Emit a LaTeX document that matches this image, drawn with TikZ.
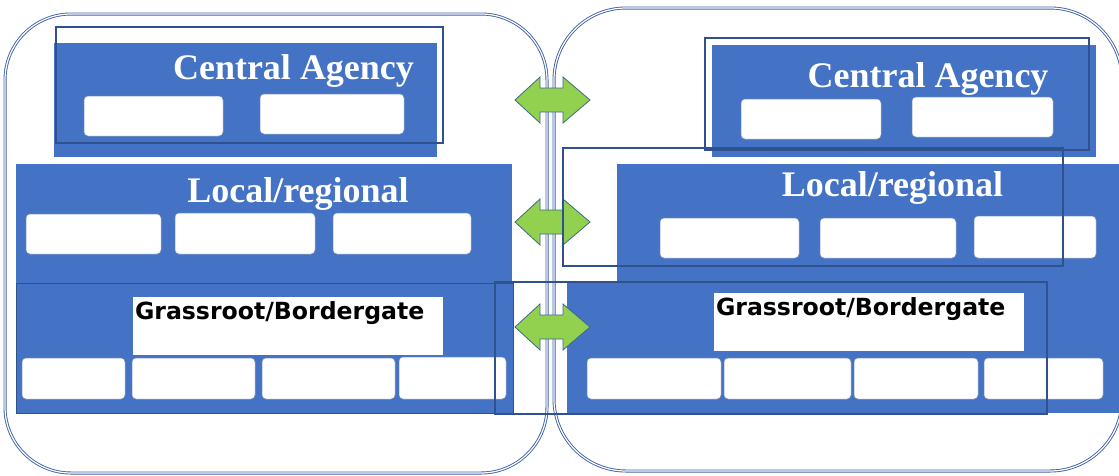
\documentclass[tikz,border=0pt]{standalone}
\usepackage{fontspec}
\newfontfamily\titlefont{Liberation Serif}
\newfontfamily\tierfont{DejaVu Sans}
\definecolor{panelblue}{HTML}{4472C4}
\definecolor{edgeblue}{HTML}{2F528F}
\definecolor{ringblue}{HTML}{3F64A8}
\definecolor{linkgreen}{HTML}{92D050}
\definecolor{linkedge}{HTML}{3C6A86}

% rectangle node from its top-left and bottom-right corners (pixel grid, y down)
\newcommand\blk[6]{%
  \node[#2, anchor=north west, minimum width={#5-#3}, minimum height={#6-#4}] (#1) at (#3,#4) {};}

\begin{document}
\begin{tikzpicture}[x=1pt,y=-1pt,
  every node/.style={inner sep=0pt, outer sep=0pt},
  ring/.style={draw=ringblue, double=white, line width=0.9pt, double distance=1.2pt},
  panel/.style={fill=panelblue},
  framed/.style={draw=edgeblue, line width=1.3pt},
  slot/.style={fill=white, draw=edgeblue!60, line width=0.5pt, rounded corners=4pt},
  tag/.style={fill=white},
  title/.style={text=white, anchor=base, font=\titlefont\bfseries\fontsize{36}{36}\selectfont},
  tier/.style={text=black, anchor=base west, font=\tierfont\bfseries\fontsize{23.6}{24}\selectfont},
  link/.style={fill=linkgreen, draw=linkedge, line width=0.8pt, line join=miter},
  biarrow/.pic={
    \path[link] (-37.5,0) -- (-12.5,-23) -- (-12.5,-12) -- (10.5,-12) -- (10.5,-23)
      -- (37.5,0) -- (10.5,23) -- (10.5,12) -- (-12.5,12) -- (-12.5,23) -- cycle;
    \coordinate (-west) at (-37.5,0);
    \coordinate (-east) at (37.5,0);}]
\clip (0,0) rectangle (1119,475);

% the two governance domains
\blk{westring}{ring, rounded corners=66pt}{5}{14}{547}{473}
\blk{eastring}{ring, rounded corners=72pt}{554}{8}{1122}{471}

% ---- western side ----
\blk{caWpanel}{panel}{54}{43}{437}{157}
\blk{caWa}{slot}{84}{96}{223}{136}
\blk{caWb}{slot}{260}{94}{404}{134}
\node[title] (caWtitle) at (293.5,79) {Central Agency};

\blk{locWpanel}{panel}{16}{164}{512}{284}
\blk{locWa}{slot}{26}{214}{161}{254}
\blk{locWb}{slot}{175}{213}{315}{254}
\blk{locWc}{slot}{333}{213}{471}{254}
\node[title] (locWtitle) at (298,202) {Local/regional};

\blk{grWpanel}{panel, draw=edgeblue, line width=0.8pt}{16}{283}{513}{413}
\blk{grWtag}{tag}{133}{297}{443}{355}
\node[tier] (grWtitle) at (135,319) {Grassroot/Bordergate};
\blk{grWa}{slot}{22}{358}{125}{399}
\blk{grWb}{slot}{132}{358}{255}{399}
\blk{grWc}{slot}{262}{358}{395}{399}
\blk{grWd}{slot}{399}{357}{506}{399}

% ---- eastern side ----
\blk{caEpanel}{panel}{712}{45}{1096}{157}
\blk{caEa}{slot}{741}{99}{881}{139}
\blk{caEb}{slot}{912}{97}{1053}{137}
\node[title] (caEtitle) at (928,87) {Central Agency};

\blk{locEpanel}{panel}{617}{164}{1119}{285}
\blk{grEpanel}{panel}{567}{282}{1119}{413}
\blk{locEa}{slot}{660}{218}{799}{258}
\blk{locEb}{slot}{820}{218}{956}{258}
\blk{locEc}{slot}{974}{216}{1096}{258}
\node[title] (locEtitle) at (892.5,196) {Local/regional};

\blk{grEtag}{tag}{714}{293}{1024}{351}
\node[tier] (grEtitle) at (716,315) {Grassroot/Bordergate};
\blk{grEa}{slot}{587}{358}{721}{399}
\blk{grEb}{slot}{724}{358}{851}{399}
\blk{grEc}{slot}{854}{358}{978}{399}
\blk{grEd}{slot}{984}{358}{1103}{399}

% ---- two-way links between the domains, one per tier ----
\pic (linkCA) at (552.5,100) {biarrow};
\pic (linkLoc) at (552.5,222) {biarrow};
\pic (linkGr) at (552.5,327) {biarrow};

% ---- frames drawn over the tiers ----
\blk{caWframe}{framed}{56}{27}{443}{143}
\blk{caEframe}{framed}{705}{38}{1089}{150}
\blk{locEframe}{framed}{563}{148}{1063}{266}
\blk{grEframe}{framed}{495}{282}{1047}{414}
\end{tikzpicture}
\end{document}
